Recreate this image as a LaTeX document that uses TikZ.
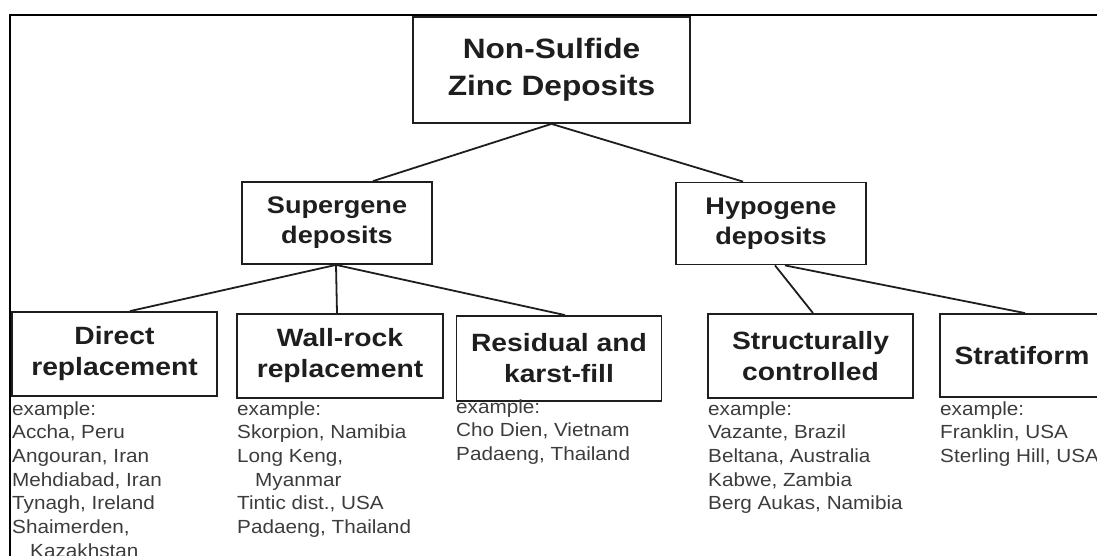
\documentclass[tikz,border=0pt]{standalone}
\usepackage{fontspec}
\setmainfont{Liberation Sans}
\newfontfamily\boxfont[FakeStretch=1.13]{Liberation Sans}
\newfontfamily\exfont[FakeStretch=1.09]{Liberation Sans}
\usetikzlibrary{calc}
\definecolor{inkdark}{HTML}{1E1E1E}
\definecolor{inkgrey}{HTML}{3C3C3C}
\newcommand\exlist[1]{\begin{tabular}[t]{@{}l@{}}#1\end{tabular}}
\tikzset{
  box/.style={draw=inkdark, line width=1.8pt, inner sep=0pt, align=center,
    text=inkdark, font=\boxfont\bfseries},
  topbox/.style={box, minimum width=277pt, minimum height=106pt,
    font=\boxfont\bfseries\fontsize{28}{37}\selectfont},
  midbox/.style={box, minimum width=190pt, minimum height=82pt,
    font=\boxfont\bfseries\fontsize{24}{30}\selectfont},
  leafbox/.style={box, minimum width=205pt, minimum height=84pt,
    font=\boxfont\bfseries\fontsize{25}{31}\selectfont},
  examples/.style={anchor=base west, inner sep=0pt, text=inkgrey,
    font=\exfont\fontsize{19}{23.7}\selectfont},
  link/.style={draw=inkdark, line width=1.8pt},
  frame/.style={draw=black, line width=2.2pt}
}
\begin{document}
\begin{tikzpicture}[x=1pt, y=-1pt]
  \useasboundingbox (0,0) rectangle (1097,556);
  \clip (0,0) rectangle (1097,556);

  % outer frame (top and left sides)
  \draw[frame] (10,560) -- (10,15) -- (1100,15);

  % hierarchy boxes
  \node[topbox] (root) at (551.5,70) {Non-Sulfide\\Zinc Deposits};
  \node[midbox] (super) at (337,223) {Supergene\\deposits};
  \node[midbox] (hypo) at (771,223.5) {Hypogene\\deposits};
  \node[leafbox] (direct) at (114.5,354) {Direct\\replacement};
  \node[leafbox, minimum width=206pt] (wall) at (340,356) {Wall-rock\\replacement};
  \node[leafbox, minimum height=85pt] (resid) at (559,358.5) {Residual and\\karst-fill};
  \node[leafbox] (struct) at (810.5,356) {Structurally\\controlled};
  \node[leafbox, minimum width=164pt, minimum height=83pt] (strat) at (1022,355.5) {Stratiform};

  % connectors
  \draw[link] (root.south) -- ([xshift=36pt]super.north);
  \draw[link] (root.south) -- ([xshift=-28pt]hypo.north);
  \draw[link] ([xshift=-1pt]super.south) -- ([xshift=15.5pt]direct.north);
  \draw[link] ([xshift=-1pt]super.south) -- ([xshift=-3pt]wall.north);
  \draw[link] ([xshift=-1pt]super.south) -- ([xshift=6pt]resid.north);
  \draw[link] ([xshift=4pt]hypo.south) -- ([xshift=2.5pt]struct.north);
  \draw[link] ([xshift=14pt]hypo.south) -- ([xshift=3pt]strat.north);

  % example localities
  \node[examples] (exdirect) at (12,415) {\exlist{example:\\Accha, Peru\\Angouran, Iran\\Mehdiabad, Iran\\Tynagh, Ireland\\Shaimerden,\\\hspace{18pt}Kazakhstan}};
  \node[examples] (exwall) at (237,415) {\exlist{example:\\Skorpion, Namibia\\Long Keng,\\\hspace{18pt}Myanmar\\Tintic dist., USA\\Padaeng, Thailand}};
  \node[examples] (exresid) at (456,413) {\exlist{example:\\Cho Dien, Vietnam\\Padaeng, Thailand}};
  \node[examples] (exstruct) at (708,415) {\exlist{example:\\Vazante, Brazil\\Beltana, Australia\\Kabwe, Zambia\\Berg Aukas, Namibia}};
  \node[examples] (exstrat) at (940,415) {\exlist{example:\\Franklin, USA\\Sterling Hill, USA}};
\end{tikzpicture}
\end{document}
